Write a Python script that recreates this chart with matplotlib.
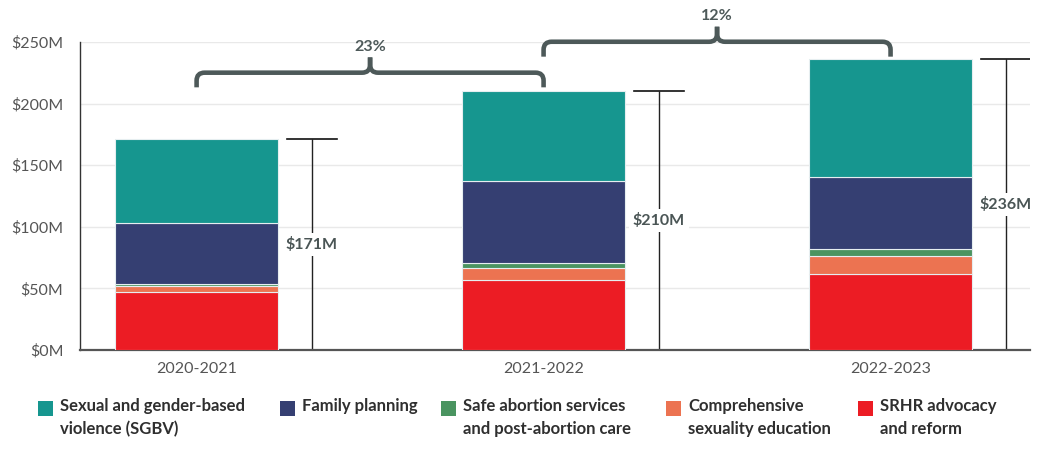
import numpy as np
import matplotlib
matplotlib.use("Agg")
import matplotlib.pyplot as plt
from matplotlib.path import Path
from matplotlib.patches import PathPatch, Rectangle

# data (in $M)
years = ["2020-2021", "2021-2022", "2022-2023"]
sgbv = [68.0, 72.9, 95.6]
family = [49.6, 66.3, 58.2]
safe_abortion = [1.4, 4.4, 6.2]
cse = [5.2, 9.8, 14.3]
srhr = [46.8, 56.6, 61.7]
totals = [171, 210, 236]
growth = ["23%", "12%"]

names = ["Sexual and gender-based\nviolence (SGBV)", "Family planning",
         "Safe abortion services\nand post-abortion care",
         "Comprehensive\nsexuality education", "SRHR advocacy\nand reform"]
colors = ["#16968f", "#353f72", "#4a9460", "#ec7351", "#ec1c24"]

plt.rcParams['font.family'] = ['Lato', 'DejaVu Sans']

fig = plt.figure(figsize=(10.5, 4.61), dpi=100)
ax = fig.add_axes([0.0762, 0.2408, 0.9048, 0.6681])

x = np.arange(len(years))
bw = 0.47
# stack bottom to top
stack = [srhr, cse, safe_abortion, family, sgbv]
stack_col = [colors[4], colors[3], colors[2], colors[1], colors[0]]
bottom = np.zeros(len(years))
for vals, c in zip(stack, stack_col):
    ax.bar(x, vals, bw, bottom=bottom, color=c, edgecolor='#e6eef0', linewidth=0.8, zorder=3)
    bottom += np.array(vals)

ax.set_xlim(-0.336, 2.402)
ax.set_ylim(0, 250)
ax.set_yticks(np.arange(0, 251, 50))
ax.set_yticklabels(["$%dM" % v for v in range(0, 251, 50)])
ax.set_xticks(x)
ax.set_xticklabels(years)
ax.tick_params(length=0, colors='#555555', labelsize=11.5)
ax.tick_params(axis='y', pad=12)
ax.tick_params(axis='x', pad=9)
ax.grid(axis='y', color='#e9e9e9', linewidth=1, zorder=0)
for s in ['top', 'right']:
    ax.spines[s].set_visible(False)
ax.spines['left'].set_color('#333333')
ax.spines['left'].set_linewidth(1)
ax.spines['bottom'].set_color('#555555')
ax.spines['bottom'].set_linewidth(1.6)

# total markers
off = 0.332
cap = 0.072
for i, t in enumerate(totals):
    xl = i + off
    ax.plot([xl, xl], [0, t], color='#222222', lw=1, zorder=2, solid_capstyle='butt')
    ax.plot([xl - cap, xl + cap], [t, t], color='#111111', lw=1.2, zorder=2)
    ax.text(xl, t / 2, "$%dM" % t, ha='center', va='center', fontsize=11.5,
            fontweight='bold', color='#4a5555', zorder=4,
            bbox=dict(facecolor='white', edgecolor='none', pad=3))

# growth braces
bcol = '#4d5959'
px_x = 347.0
px_y = 1.232


def brace(x0, x1, y, drop, tip, label):
    xm = (x0 + x1) / 2
    rx = 8 / px_x
    ry = 8 / px_y
    for a, sgn in [(x0, 1), (x1, -1)]:
        verts = [(a, y - drop), (a, y - ry), (a, y), (a + sgn * rx, y),
                 (xm - sgn * rx, y), (xm, y), (xm, y + ry), (xm, y + tip)]
        codes = [Path.MOVETO, Path.LINETO, Path.CURVE3, Path.CURVE3,
                 Path.LINETO, Path.CURVE3, Path.CURVE3, Path.LINETO]
        ax.add_patch(PathPatch(Path(verts, codes), facecolor='none', edgecolor=bcol,
                               lw=3.3, capstyle='butt', joinstyle='round', clip_on=False, zorder=5))
    ax.text(xm, y + tip + 8.5, label, ha='center', va='center', fontsize=11.5,
            fontweight='bold', color=bcol, clip_on=False)


brace(0, 1, 225.1, 11.9, 12.4, growth[0])
brace(1, 2, 250.2, 12.1, 12.2, growth[1])

# legend
leg_x = [38, 280, 441, 666, 858]
for lx, nm, c in zip(leg_x, names, colors):
    fig.patches.append(Rectangle((lx / 1050, 1 - 416 / 461), 15 / 1050, 15 / 461,
                                 transform=fig.transFigure, facecolor=c, edgecolor='none'))
    fig.text((lx + 22) / 1050, 1 - 398 / 461, nm, ha='left', va='top', fontsize=12,
             fontweight='bold', color='#2f2f2f', linespacing=1.5)

fig.savefig("out.png", dpi=100)
